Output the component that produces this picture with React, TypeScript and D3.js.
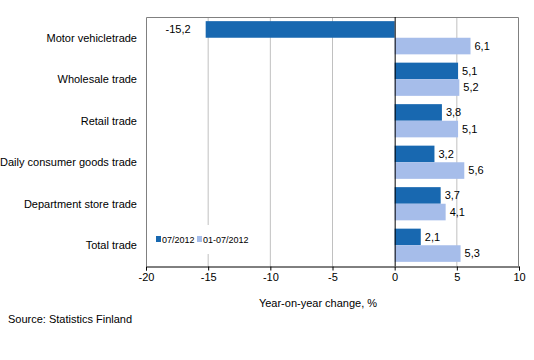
import React, { useEffect, useRef } from 'react';
import * as d3 from 'd3';

const categories = [
  'Motor vehicletrade',
  'Wholesale trade',
  'Retail trade',
  'Daily consumer goods trade',
  'Department store trade',
  'Total trade',
];
const monthValues = [-15.2, 5.1, 3.8, 3.2, 3.7, 2.1];
const periodValues = [6.1, 5.2, 5.1, 5.6, 4.1, 5.3];
const seriesNames = ['07/2012', '01-07/2012'];
const xTicks = [-20, -15, -10, -5, 0, 5, 10];

const DARK = '#1868b0';
const LIGHT = '#a6bdea';
const FONT = '"Liberation Sans", Arial, sans-serif';

export default function App() {
  const svgRef = useRef<SVGSVGElement>(null);

  useEffect(() => {
    if (!svgRef.current) return;
    const svg = d3.select(svgRef.current);
    svg.selectAll('*').remove();

    const left = 146, right = 519, top = 17, bottom = 266;

    const x = d3.scaleLinear().domain([-20, 10]).range([left, right]);
    const y = d3.scaleBand<string>().domain(categories).range([top, bottom]).paddingInner(0.2).paddingOuter(0.1);
    const sub = d3.scaleBand<number>().domain([0, 1]).range([0, y.bandwidth()]);

    const g = svg.append('g');

    // gridlines
    g.selectAll('.grid')
      .data(xTicks.filter(t => t !== 0 && t !== -20 && t !== 10))
      .enter().append('line')
      .attr('x1', d => x(d)).attr('x2', d => x(d))
      .attr('y1', top).attr('y2', bottom)
      .attr('stroke', '#c0c0c0').attr('stroke-width', 1);

    // plot frame (left, top, right)
    g.append('path')
      .attr('d', `M${left + 0.5},${bottom} V${top + 0.5} H${right - 0.5} V${bottom}`)
      .attr('fill', 'none').attr('stroke', '#808080');

    // bars
    const series = [monthValues, periodValues];
    series.forEach((vals, si) => {
      g.selectAll(`.bar${si}`)
        .data(vals)
        .enter().append('rect')
        .attr('x', d => x(Math.min(0, d)))
        .attr('width', d => Math.abs(x(d) - x(0)))
        .attr('y', (d, i) => (y(categories[i]) as number) + (sub(si) as number))
        .attr('height', sub.bandwidth())
        .attr('fill', si === 0 ? DARK : LIGHT);

      g.selectAll(`.lbl${si}`)
        .data(vals)
        .enter().append('text')
        .attr('x', d => d < 0 ? x(d) - 15 : x(d) + 4)
        .attr('y', (d, i) => (y(categories[i]) as number) + (sub(si) as number) + sub.bandwidth() / 2)
        .attr('dy', '0.35em')
        .attr('text-anchor', d => d < 0 ? 'end' : 'start')
        .style('font-family', FONT).style('font-size', '11px').style('fill', '#000')
        .text(d => d.toFixed(1).replace('.', ','));
    });

    // zero line
    g.append('line')
      .attr('x1', x(0) + 0.5).attr('x2', x(0) + 0.5)
      .attr('y1', top).attr('y2', bottom)
      .attr('stroke', '#000');

    // category labels
    g.selectAll('.cat')
      .data(categories)
      .enter().append('text')
      .attr('x', 137)
      .attr('y', d => (y(d) as number) + y.bandwidth() / 2)
      .attr('dy', '0.35em')
      .attr('text-anchor', 'end')
      .style('font-family', FONT).style('font-size', '11px').style('fill', '#000')
      .text(d => d);

    // x axis
    const axis = d3.axisBottom(x).tickValues(xTicks).tickSize(4).tickPadding(3).tickFormat(d => String(d));
    const ax = g.append('g').attr('transform', `translate(0,${bottom + 0.5})`).call(axis);
    ax.select('.domain').attr('stroke', '#000');
    ax.selectAll('.tick line').attr('stroke', '#000');
    ax.selectAll('.tick text')
      .style('font-family', FONT).style('font-size', '11px').style('fill', '#000');

    g.append('text')
      .attr('x', 318).attr('y', 303).attr('dy', '0.35em')
      .attr('text-anchor', 'middle')
      .style('font-family', FONT).style('font-size', '11px').style('fill', '#000')
      .text('Year-on-year change, %');

    g.append('text')
      .attr('x', 8).attr('y', 319).attr('dy', '0.35em')
      .style('font-family', FONT).style('font-size', '11px').style('fill', '#000')
      .text('Source: Statistics Finland');

    // legend
    const leg = g.append('g');
    leg.append('rect').attr('x', 150).attr('y', 225).attr('width', 104).attr('height', 29).attr('fill', '#fff');
    const items = [
      { name: seriesNames[0], color: DARK, x: 156 },
      { name: seriesNames[1], color: LIGHT, x: 197 },
    ];
    items.forEach(it => {
      leg.append('rect').attr('x', it.x).attr('y', 236).attr('width', 5).attr('height', 6).attr('fill', it.color);
      leg.append('text')
        .attr('x', it.x + 6).attr('y', 239.5).attr('dy', '0.35em')
        .style('font-family', FONT).style('font-size', '9px').style('fill', '#000')
        .text(it.name);
    });
  }, []);

  return (
    <svg ref={svgRef} width={534} height={360}
      style={{ position: 'absolute', left: 0, top: 0, background: '#fff' }} />
  );
}
